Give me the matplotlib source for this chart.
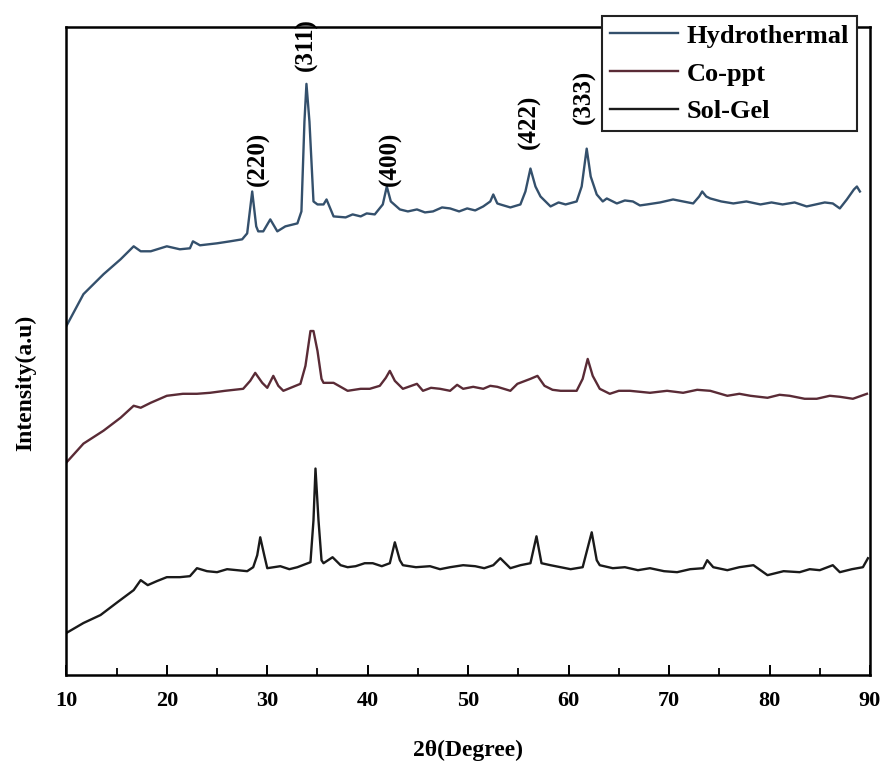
import numpy as np
import matplotlib
matplotlib.use("Agg")
import matplotlib.pyplot as plt
from matplotlib.ticker import MultipleLocator

# 2theta / intensity (a.u.), curves already offset
hydro_2t = [10.0, 11.7, 13.7, 15.4, 16.4, 16.7, 17.4, 18.4, 20.0, 21.3, 22.3, 22.6, 23.3, 25.0,
            26.3, 27.5, 28.0, 28.5, 28.9, 29.1, 29.6, 30.3, 31.0, 31.8, 33.0, 33.4, 33.7, 33.9,
            34.2, 34.6, 35.0, 35.6, 35.9, 36.6, 37.8, 38.5, 39.3, 39.9, 40.7, 41.5, 41.9, 42.3, 43.2,
            44.0, 44.9, 45.7, 46.5, 47.4, 48.2, 49.1, 49.9, 50.7, 51.5, 52.2, 52.5, 52.9, 53.2, 54.2,
            55.2, 55.7, 56.2, 56.7, 57.2, 58.2, 59.0, 59.7, 60.8, 61.3, 61.8, 62.2, 62.8, 63.4, 63.8,
            64.8, 65.6, 66.4, 67.1, 67.8, 69.1, 70.4, 71.4, 72.4, 73.0, 73.3, 73.7, 74.1, 75.2, 76.4,
            77.7, 79.1, 80.2, 81.3, 82.5, 83.7, 84.6, 85.5, 86.3, 87.0, 87.7, 88.4, 88.7, 89.0]
hydro_int = [350, 382, 402, 417, 427, 430, 425, 425, 430, 427, 428, 435, 431, 433,
             435, 437, 443, 485, 450, 445, 445, 457, 445, 450, 453, 465, 555, 593,
             555, 475, 472, 472, 477, 460, 459, 462, 460, 463, 462, 472, 490, 475, 467,
             465, 467, 464, 465, 469, 468, 465, 468, 466, 470, 475, 482, 473, 472, 469,
             472, 485, 508, 490, 480, 470, 474, 472, 475, 490, 528, 500, 482, 475, 478,
             473, 476, 475, 471, 472, 474, 477, 475, 473, 480, 485, 480, 478, 475, 473,
             475, 472, 474, 472, 474, 470, 472, 474, 473, 468, 477, 487, 490, 485]

coppt_2t = [10.0, 11.7, 13.7, 15.4, 16.7, 17.4, 18.4, 20.0, 21.6, 23.0, 24.3, 25.8, 27.6, 28.3,
            28.8, 29.5, 30.0, 30.6, 31.1, 31.6, 33.3, 33.8, 34.3, 34.6, 35.0, 35.4, 35.6, 36.6,
            38.0, 39.3, 40.2, 41.2, 41.8, 42.2, 42.7, 43.5, 44.9, 45.5, 46.3, 47.2, 48.2, 48.9,
            49.5, 50.5, 51.5, 52.2, 52.9, 54.2, 54.9, 56.2, 56.9, 57.6, 58.4, 59.2, 60.8, 61.4,
            61.9, 62.4, 63.1, 64.1, 65.0, 66.1, 68.1, 69.8, 71.4, 72.8, 74.1, 75.8, 77.0, 78.1,
            79.8, 81.0, 82.0, 83.5, 84.7, 86.0, 87.0, 88.3, 89.7]
coppt_int = [213, 232, 245, 258, 270, 268, 273, 280, 282, 282, 283, 285, 287, 295,
             303, 293, 288, 300, 290, 285, 292, 310, 345, 345, 325, 297, 293, 293,
             285, 287, 287, 290, 298, 305, 295, 287, 292, 285, 288, 287, 285, 291,
             287, 289, 287, 290, 289, 285, 292, 297, 300, 290, 286, 285, 285, 297,
             317, 300, 287, 282, 285, 285, 283, 285, 283, 286, 285, 280, 282, 280,
             278, 281, 280, 277, 277, 280, 279, 277, 282]

solgel_2t = [10.0, 11.7, 13.4, 15.1, 16.7, 17.4, 18.1, 19.0, 20.0, 21.3, 22.3, 23.0, 24.0, 25.0,
             26.0, 27.0, 28.0, 28.6, 29.0, 29.3, 29.7, 30.0, 31.3, 32.2, 33.0, 34.3, 34.6, 34.8,
             35.1, 35.4, 35.6, 36.5, 37.3, 38.0, 38.8, 39.7, 40.5, 41.4, 42.2, 42.7, 43.2, 43.5,
             44.8, 46.2, 47.2, 48.2, 49.5, 50.7, 51.6, 52.5, 53.2, 54.2, 55.2, 56.2, 56.8, 57.3,
             58.2, 59.2, 60.2, 61.4, 62.3, 62.8, 63.1, 64.4, 65.6, 66.9, 68.1, 69.5, 70.8, 72.1,
             73.4, 73.8, 74.4, 75.8, 77.0, 78.4, 79.8, 81.4, 83.0, 84.0, 85.0, 86.3, 87.0, 88.2,
             89.3, 89.8]
solgel_int = [42, 52, 60, 73, 85, 95, 90, 94, 98, 98, 99, 107, 104, 103,
              106, 105, 104, 108, 120, 138, 120, 107, 109, 106, 108, 113, 155, 207,
              155, 115, 112, 118, 110, 108, 109, 112, 112, 109, 112, 133, 115, 110,
              108, 109, 106, 108, 110, 109, 107, 110, 117, 107, 110, 112, 139, 112,
              110, 108, 106, 108, 143, 115, 110, 107, 108, 105, 107, 104, 103, 106,
              107, 115, 108, 105, 108, 110, 100, 104, 103, 106, 105, 110, 103, 106,
              108, 117]

peak_labels = ["(220)", "(311)", "(400)", "(422)", "(333)"]
peak_2t = [29.1, 33.9, 42.3, 56.1, 61.6]
peak_y = [518, 632, 518, 555, 580]

plt.rcParams["font.family"] = ["Liberation Serif", "DejaVu Serif"]
plt.rcParams["font.weight"] = "bold"

fig = plt.figure(figsize=(8.85, 7.73), dpi=100)
ax = fig.add_axes([0.075, 0.127, 0.908, 0.838])

ax.plot(hydro_2t, hydro_int, color="#34506c", lw=1.7, label="Hydrothermal")
ax.plot(coppt_2t, coppt_int, color="#5a2b36", lw=1.7, label="Co-ppt")
ax.plot(solgel_2t, solgel_int, color="#1a1a1a", lw=1.7, label="Sol-Gel")

for lab, x, y in zip(peak_labels, peak_2t, peak_y):
    ax.text(x, y, lab, rotation=90, ha="center", va="center", fontsize=18, fontweight="bold")

ax.set_xlim(10, 90)
ax.set_ylim(0, 650)
ax.set_yticks([])
ax.xaxis.set_major_locator(MultipleLocator(10))
ax.xaxis.set_minor_locator(MultipleLocator(5))
ax.tick_params(axis="x", which="both", direction="in", top=False, labelsize=16, pad=12)
ax.tick_params(axis="x", which="major", length=7, width=1.4)
ax.tick_params(axis="x", which="minor", length=5, width=1.3)
for s in ax.spines.values():
    s.set_linewidth(1.8)

ax.set_xlabel("2θ(Degree)", fontsize=17, fontweight="bold")
ax.xaxis.set_label_coords(0.5, -0.1)
ax.set_ylabel("Intensity(a.u)", fontsize=17, fontweight="bold")
ax.yaxis.set_label_coords(-0.038, 0.45)

leg = ax.legend(loc="upper right", bbox_to_anchor=(0.99, 1.025), fontsize=19,
                handlelength=2.6, handletextpad=0.3, labelspacing=0.55,
                fancybox=False, framealpha=1, edgecolor="#222222", borderpad=0.3,
                borderaxespad=0.2)
leg.get_frame().set_linewidth(1.5)

fig.savefig("out.png", dpi=100)
